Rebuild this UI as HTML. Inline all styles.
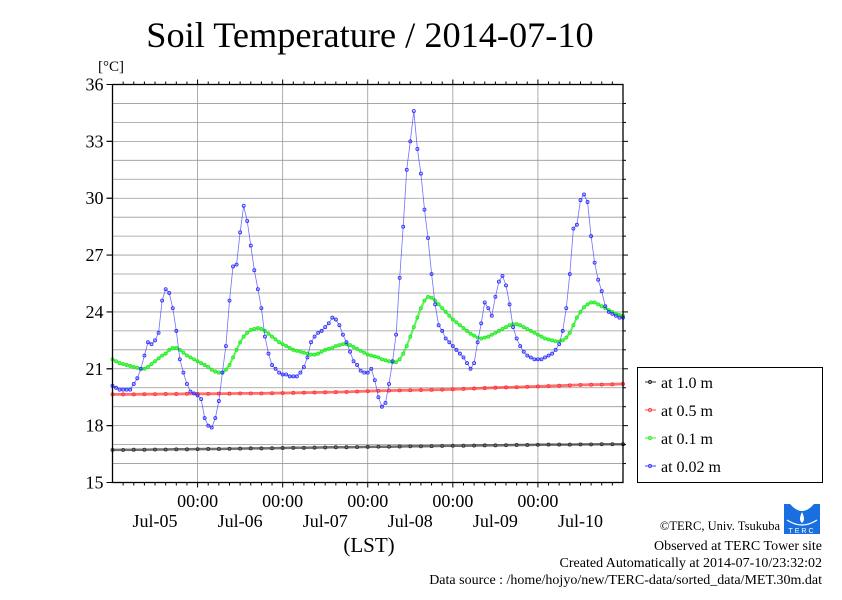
<!DOCTYPE html>
<html><head><meta charset="utf-8"><style>
html,body{margin:0;padding:0;background:#fff;}
svg text{font-family:"Liberation Serif",serif;fill:#000;}
</style></head><body>
<svg id="chart" width="842" height="595" xmlns="http://www.w3.org/2000/svg">
<rect width="842" height="595" fill="#fff"/>
<text x="370" y="47" font-size="36.3" text-anchor="middle">Soil Temperature / 2014-07-10</text>
<text x="98" y="71" font-size="15">[°C]</text>
<text x="369" y="552" font-size="21" text-anchor="middle">(LST)</text>
<g id="grid"></g><g id="series"></g><g id="axes"></g>
<g>
<rect x="637.5" y="367.5" width="185" height="115" fill="#fff" stroke="#000" stroke-width="1"/>
<g><line x1="645" x2="656" y1="382" y2="382" stroke="#333"/><circle cx="650" cy="382" r="1.6" fill="none" stroke="#333"/><text x="661" y="388" font-size="16">at 1.0 m</text></g>
<g><line x1="645" x2="656" y1="410" y2="410" stroke="#f44"/><circle cx="650" cy="410" r="1.6" fill="none" stroke="#f44"/><text x="661" y="416" font-size="16">at 0.5 m</text></g>
<g><line x1="645" x2="656" y1="438" y2="438" stroke="#3e3"/><circle cx="650" cy="438" r="1.6" fill="none" stroke="#3e3"/><text x="661" y="444" font-size="16">at 0.1 m</text></g>
<g><line x1="645" x2="656" y1="466" y2="466" stroke="#44f"/><circle cx="650" cy="466" r="1.6" fill="none" stroke="#44f"/><text x="661" y="472" font-size="16">at 0.02 m</text></g>
</g>
<g>
<rect x="784" y="504" width="36" height="30" fill="#1a6fe0"/>
<path d="M790 504 Q802 518 814 504 Z" fill="#fff"/>
<path d="M802 512 Q798 520 802 523 Q806 520 802 512 Z" fill="#fff"/>
<path d="M787 520 Q802 530 817 520" stroke="#fff" fill="none" stroke-width="1.2"/>
<text x="802" y="533" font-size="7" text-anchor="middle" style="fill:#fff;font-family:'Liberation Sans',sans-serif" letter-spacing="2">TERC</text>
</g>
<text x="780" y="530" font-size="12.5" text-anchor="end">©TERC, Univ. Tsukuba</text>
<text x="822" y="550" font-size="14" text-anchor="end">Observed at TERC Tower site</text>
<text x="822" y="567" font-size="14" text-anchor="end">Created Automatically at 2014-07-10/23:32:02</text>
<text x="822" y="584" font-size="14" text-anchor="end">Data source : /home/hojyo/new/TERC-data/sorted_data/MET.30m.dat</text>
</svg>
<script>
const yTicks=[15,18,21,24,27,30,33,36];
const dayTickHours=[24,48,72,96,120];
const dayLabels=["Jul-05","Jul-06","Jul-07","Jul-08","Jul-09","Jul-10"];
const blueHourly=[20.1,20.0,19.9,19.9,19.9,19.9,20.2,20.5,21.0,21.7,22.4,22.3,22.5,22.9,24.6,25.2,25.0,24.2,23.0,21.5,20.8,20.2,19.8,19.7,19.6,19.4,18.4,18.0,17.9,18.4,19.3,20.8,22.2,24.6,26.4,26.5,28.2,29.6,28.8,27.5,26.2,25.2,24.2,22.7,21.8,21.2,21.0,20.8,20.7,20.7,20.6,20.6,20.6,20.8,21.1,21.6,22.4,22.7,22.9,23.0,23.2,23.4,23.7,23.6,23.3,22.8,22.4,21.9,21.4,21.2,20.9,20.8,20.8,21.0,20.4,19.5,19.0,19.2,20.2,21.4,22.8,25.8,28.5,31.5,33.0,34.6,32.6,31.3,29.4,27.9,26.0,24.4,23.3,23.0,22.6,22.4,22.2,22.0,21.8,21.6,21.3,21.0,21.3,22.4,23.4,24.5,24.2,23.8,24.8,25.6,25.9,25.4,24.4,23.2,22.6,22.2,21.9,21.7,21.6,21.5,21.5,21.5,21.6,21.7,21.8,22.0,22.3,23.0,24.2,26.0,28.4,28.6,29.9,30.2,29.8,28.0,26.6,25.7,25.1,24.3,24.0,23.9,23.8,23.7,23.7];
const greenHourly=[21.5,21.4,21.3,21.25,21.2,21.15,21.1,21.05,21.0,21.0,21.1,21.25,21.4,21.55,21.7,21.8,22.0,22.1,22.1,22.0,21.85,21.7,21.6,21.5,21.4,21.3,21.2,21.1,20.95,20.85,20.8,20.8,20.95,21.2,21.6,22.0,22.4,22.7,22.9,23.05,23.1,23.15,23.1,23.0,22.85,22.7,22.55,22.4,22.3,22.2,22.1,22.0,21.95,21.9,21.85,21.8,21.75,21.75,21.8,21.9,22.0,22.05,22.1,22.2,22.25,22.3,22.3,22.25,22.15,22.05,21.95,21.85,21.75,21.7,21.65,21.6,21.5,21.45,21.4,21.35,21.35,21.5,21.8,22.2,22.7,23.2,23.7,24.2,24.6,24.8,24.75,24.6,24.4,24.2,24.0,23.8,23.6,23.45,23.3,23.15,23.0,22.85,22.75,22.65,22.6,22.65,22.7,22.8,22.9,23.0,23.1,23.2,23.3,23.35,23.35,23.3,23.2,23.1,23.0,22.9,22.8,22.7,22.6,22.55,22.5,22.45,22.45,22.5,22.65,22.9,23.3,23.7,24.0,24.25,24.4,24.5,24.5,24.4,24.3,24.2,24.1,24.0,23.9,23.85,23.8];
const red3h=[19.65,19.65,19.65,19.66,19.66,19.67,19.67,19.68,19.68,19.68,19.69,19.69,19.7,19.7,19.7,19.71,19.72,19.73,19.74,19.75,19.76,19.77,19.78,19.8,19.82,19.84,19.85,19.86,19.87,19.88,19.89,19.9,19.92,19.94,19.96,19.98,20.0,20.02,20.03,20.05,20.07,20.09,20.11,20.13,20.15,20.16,20.17,20.18,20.2];
const black3h=[16.72,16.72,16.73,16.73,16.74,16.74,16.75,16.75,16.76,16.77,16.77,16.78,16.79,16.8,16.8,16.81,16.82,16.83,16.83,16.84,16.85,16.86,16.86,16.87,16.88,16.89,16.89,16.9,16.91,16.91,16.92,16.93,16.94,16.94,16.95,16.96,16.96,16.97,16.98,16.98,16.99,17.0,17.0,17.0,17.01,17.01,17.02,17.02,17.02];

const NS="http://www.w3.org/2000/svg";
const L=112.5,R=623,T=84.5,B=482.5;
const xS=h=>L+(R-L)*h/144;
const yS=v=>B-(B-T)*(v-15)/21;
function mk(tag,attrs,parent){const e=document.createElementNS(NS,tag);for(const k in attrs)e.setAttribute(k,attrs[k]);parent.appendChild(e);return e;}
const grid=document.getElementById('grid'),axes=document.getElementById('axes'),series=document.getElementById('series');
for(let v=16;v<36;v++){const g=mk('line',{x1:L,x2:R,y1:yS(v),y2:yS(v),stroke:'#999','stroke-width':0.8},grid);

}
dayTickHours.forEach((h,i)=>{const g=mk('line',{x1:xS(h),x2:xS(h),y1:T,y2:B,stroke:'#999','stroke-width':0.8},grid);


const t=mk('text',{x:xS(h),y:507,'font-size':18,'text-anchor':'middle'},axes);t.textContent='00:00';

});
dayLabels.forEach((d,i)=>{const t=mk('text',{x:xS(12+24*i),y:527,'font-size':18,'text-anchor':'middle'},axes);t.textContent=d;

});
for(let h=3;h<144;h+=3){const big=h%24===0;mk('line',{x1:xS(h),x2:xS(h),y1:B,y2:B+(big?5:3),stroke:'#000'},axes);mk('line',{x1:xS(h),x2:xS(h),y1:T,y2:T-(big?5:3),stroke:'#000'},axes);}
for(let v=16;v<36;v++){const big=v%3===0;mk('line',{x1:L,x2:L-(big?6:0),y1:yS(v),y2:yS(v),stroke:'#000'},axes);mk('line',{x1:R,x2:R+(big?5:3),y1:yS(v),y2:yS(v),stroke:'#000'},axes);}
yTicks.forEach(v=>{mk('line',{x1:L-6,x2:L,y1:yS(v),y2:yS(v),stroke:'#000'},axes);const t=mk('text',{x:L-9,y:yS(v)+6,'font-size':18,'text-anchor':'end'},axes);t.textContent=v;

});
const fr=mk('rect',{x:L,y:T,width:R-L,height:B-T,fill:'none',stroke:'#000','stroke-width':1.3},axes);


function drawSeries(vals,step,color,name,sw){
 const g=mk('g',{},series);
 
 
 const pts=vals.map((v,i)=>xS(i*step).toFixed(1)+','+yS(v).toFixed(1)).join(' ');
 mk('polyline',{points:pts,fill:'none',stroke:color,'stroke-width':sw,'stroke-opacity':0.7},g);
 vals.forEach((v,i)=>mk('circle',{cx:xS(i*step),cy:yS(v),r:1.5,fill:'none',stroke:color,'stroke-width':0.9},g));
}
drawSeries(black3h,3,'#333','series-1m',2.5);
drawSeries(red3h,3,'#f33','series-05m',2.8);
drawSeries(greenHourly,1,'#2e2','series-01m',2.2);
drawSeries(blueHourly,1,'#33f','series-002m',0.8);
</script>
</body></html>
